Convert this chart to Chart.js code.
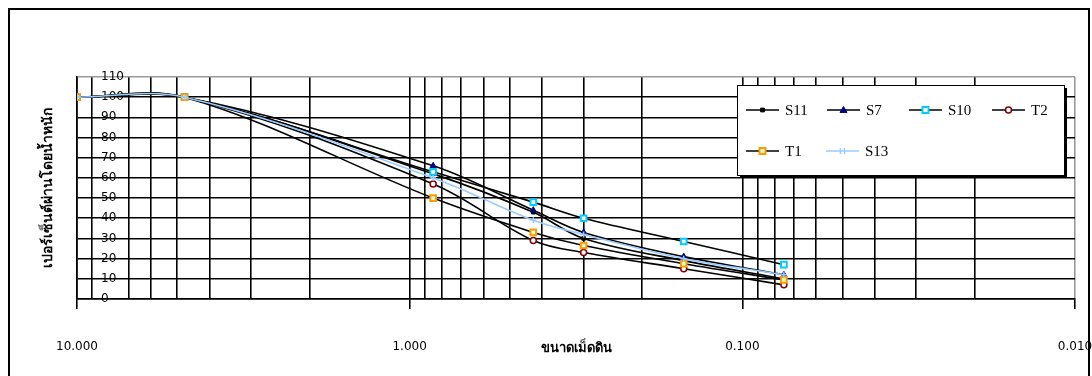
<!DOCTYPE html>
<html>
<head>
<meta charset="utf-8">
<script src="https://cdn.jsdelivr.net/npm/chart.js@4.4.1/dist/chart.umd.min.js"></script>
<style>
  html, body { margin: 0; padding: 0; background: #fff; }
  #wrap { width: 1092px; height: 376px; position: relative; }
</style>
</head>
<body>
<div id="wrap"><canvas id="c" width="1092" height="376"></canvas></div>
<script>
// ---- data ----
const sieveSizes = [10, 4.75, 0.85, 0.425, 0.3, 0.15, 0.075];
const seriesNames = ['S11', 'S7', 'S10', 'T2', 'T1', 'S13'];
const s11 = [100, 100, 62, 43, 30, 19, 10];
const s7  = [100, 100, 66, 44, 33, 21, 12];
const s10 = [100, 100, 63, 48, 40, 28.5, 17];
const t2  = [100, 100, 57, 29, 23, 15, 7];
const t1  = [100, 100, 50, 33, 26.5, 17.5, 9.5];
const s13 = [100, 100, 60, 39, 32, 20, 12];
const xMajorTicks = [10, 1, 0.1, 0.01];
const xMajorLabels = ['10.000', '1.000', '0.100', '0.010'];
const yTicks = [0, 10, 20, 30, 40, 50, 60, 70, 80, 90, 100, 110];
const xTitle = 'ขนาดเม็ดดิน';
const yTitle = 'เปอร์เซ็นต์ผ่านโดยน้ำหนัก';

const styles = [
  { line: '#000000', w: 1.6, ps: 'rect',     r: 2.5, bg: '#000000', bc: '#000000', bw: 1 },
  { line: '#000000', w: 1.6, ps: 'triangle', r: 3.5, bg: '#000080', bc: '#000080', bw: 1 },
  { line: '#000000', w: 1.6, ps: 'rect',     r: 4,   bg: '#ffffff', bc: '#00ccff', bw: 2 },
  { line: '#000000', w: 1.6, ps: 'circle',   r: 3,   bg: '#ffffff', bc: '#800000', bw: 1.5 },
  { line: '#000000', w: 1.6, ps: 'rect',     r: 4,   bg: '#ccffcc', bc: '#ff9900', bw: 2 },
  { line: '#99ccff', w: 1.6, ps: 'cross',    r: 3,   bg: '#99ccff', bc: '#99ccff', bw: 1.5 }
];
const allSeries = [s11, s7, s10, t2, t1, s13];

const datasets = allSeries.map((vals, i) => ({
  label: seriesNames[i],
  data: sieveSizes.map((x, j) => ({ x: x, y: vals[j] })),
  borderColor: styles[i].line,
  borderWidth: styles[i].w,
  pointStyle: styles[i].ps,
  pointRadius: styles[i].r,
  pointBackgroundColor: styles[i].bg,
  pointBorderColor: styles[i].bc,
  pointBorderWidth: styles[i].bw,
  tension: 0.35,
  fill: false,
  order: allSeries.length - i
}));

// log-axis gridline positions: 10,9..2,1,0.9..0.2,0.1,0.09..0.02,0.01
const xt = [];
[1, 0.1, 0.01].forEach(d => { for (let m = 10; m >= 2; m--) xt.push(+(m * d).toPrecision(3)); });
xt.push(0.01);

function isMajor(v) { return xMajorTicks.some(t => Math.abs(t - v) < 1e-9); }

const frame = {
  id: 'frame',
  beforeDraw(chart) {
    const ctx = chart.ctx;
    ctx.save();
    ctx.fillStyle = '#fff';
    ctx.fillRect(0, 0, chart.width, chart.height);
    ctx.strokeStyle = '#000';
    ctx.lineWidth = 2;
    ctx.strokeRect(9, 9, 1080, 400);
    ctx.restore();
  }
};

function drawMarker(ctx, st, x, y) {
  ctx.save();
  ctx.fillStyle = st.bg; ctx.strokeStyle = st.bc; ctx.lineWidth = st.bw;
  const r = st.r;
  ctx.beginPath();
  if (st.ps === 'rect') { ctx.rect(x - r * 0.75, y - r * 0.75, r * 1.5, r * 1.5); ctx.fill(); ctx.stroke(); }
  else if (st.ps === 'circle') { ctx.arc(x, y, r, 0, Math.PI * 2); ctx.fill(); ctx.stroke(); }
  else if (st.ps === 'triangle') { ctx.moveTo(x, y - r); ctx.lineTo(x + r, y + r * 0.7); ctx.lineTo(x - r, y + r * 0.7); ctx.closePath(); ctx.fill(); ctx.stroke(); }
  else if (st.ps === 'cross') { ctx.moveTo(x - 2, y - r); ctx.lineTo(x - 2, y + r); ctx.moveTo(x + 2, y - r); ctx.lineTo(x + 2, y + r); ctx.stroke(); }
  ctx.restore();
}

const legendBox = {
  id: 'legendBox',
  afterDraw(chart) {
    const ctx = chart.ctx;
    ctx.save();
    const L = 737, T = 85, W = 327, H = 90;
    ctx.fillStyle = '#000';
    ctx.fillRect(L + 3, T + 3, W, H);
    ctx.fillStyle = '#fff';
    ctx.fillRect(L, T, W, H);
    ctx.strokeStyle = '#000'; ctx.lineWidth = 1;
    ctx.strokeRect(L + 0.5, T + 0.5, W, H);
    const pos = [[746, 110], [827, 110], [909, 110], [992, 110], [746, 151], [826, 151]];
    ctx.font = '15px "Liberation Serif", serif';
    ctx.textBaseline = 'middle';
    chart.data.datasets.forEach((ds, i) => {
      const [x, y] = pos[i];
      const st = styles[i];
      ctx.strokeStyle = st.line; ctx.lineWidth = 1.5;
      ctx.beginPath(); ctx.moveTo(x, y); ctx.lineTo(x + 33, y); ctx.stroke();
      drawMarker(ctx, st, x + 16.5, y);
      ctx.fillStyle = '#000';
      ctx.fillText(ds.label, x + 39, y + 1);
    });
    ctx.restore();
  }
};

new Chart(document.getElementById('c'), {
  type: 'line',
  data: { datasets: datasets },
  plugins: [frame, legendBox],
  options: {
    responsive: false,
    animation: false,
    layout: { padding: { left: 10, right: 17, top: 77, bottom: 0 } },
    plugins: { legend: { display: false }, tooltip: { enabled: false } },
    scales: {
      x: {
        type: 'logarithmic',
        min: 0.01, max: 10, reverse: true,
        afterBuildTicks(scale) { scale.ticks = xt.map(v => ({ value: v })); },
        afterFit(scale) { scale.height = 77; scale.paddingLeft = 0; scale.paddingRight = 0; },
        ticks: {
          autoSkip: false, maxRotation: 0, padding: 31,
          color: '#000', font: { family: 'DejaVu Sans', size: 12 },
          callback(v) { const k = xMajorTicks.findIndex(t => Math.abs(t - v) < 1e-9); return k >= 0 ? xMajorLabels[k] : ''; }
        },
        grid: {
          color(ctx) { const v = ctx.tick && ctx.tick.value; if (v === 8) return 'rgba(0,0,0,0)'; if (Math.abs(v - 0.01) < 1e-9) return '#999'; return '#000'; },
          lineWidth: 1.6, tickLength: 10,
          tickColor(ctx) { return isMajor(ctx.tick.value) ? '#000' : 'rgba(0,0,0,0)'; }
        },
        border: { color: '#000', width: 1.6 },
        title: { display: true, text: xTitle, color: '#000', font: { size: 13, weight: 'bold' }, padding: { top: 0, bottom: 20 } }
      },
      y: {
        min: 0, max: 110,
        afterBuildTicks(scale) { scale.ticks = yTicks.map(v => ({ value: v })); },
        afterFit(scale) { scale.width = 67; },
        ticks: { mirror: true, padding: 24, color: '#000', font: { family: 'DejaVu Sans', size: 12 } },
        grid: {
          color(ctx) { return ctx.tick && ctx.tick.value === 110 ? '#999' : '#000'; },
          lineWidth: 1.6, drawTicks: false
        },
        border: { color: '#000', width: 1.6 },
        title: { display: true, text: yTitle, color: '#000', font: { size: 14, weight: 'bold' }, padding: { top: 30, bottom: 0 } }
      }
    }
  }
});
</script>
</body>
</html>
